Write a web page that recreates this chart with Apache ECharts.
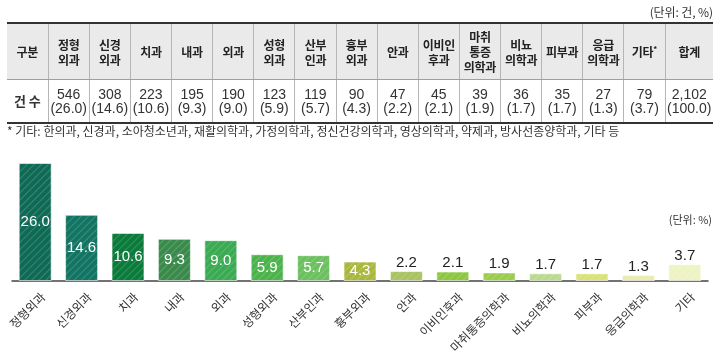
<!DOCTYPE html>
<html><head><meta charset="utf-8">
<script src="https://cdn.jsdelivr.net/npm/echarts@6/dist/echarts.min.js"></script>
<style>
html,body{margin:0;padding:0;background:#fff;width:720px;height:356px;overflow:hidden;font-family:"Noto Sans CJK KR","Noto Sans",sans-serif;color:#222;}
#chart{position:absolute;left:0;top:0;width:720px;height:356px;}
#unit1{position:absolute;right:7px;top:3px;font-size:12px;color:#333;letter-spacing:-0.1px;}
#tbl{position:absolute;left:7px;top:22px;border-collapse:collapse;table-layout:fixed;width:706px;border-top:2px solid #333;border-bottom:2px solid #333;}
#tbl td{padding:0;text-align:center;vertical-align:middle;border-left:1px solid #b5b5b5;overflow:hidden;white-space:nowrap;}
#tbl td:first-child{border-left:none;}
#tbl tr.h td{background:#eaeaea;height:55px;font-weight:bold;font-size:12px;line-height:15px;color:#222;border-bottom:1px solid #a0a0a0;letter-spacing:-0.3px;}
#tbl tr.d td{height:42px;font-size:14px;line-height:14px;color:#333;font-family:"Liberation Sans","Noto Sans CJK KR",sans-serif;}
#tbl tr.d td:first-child{font-weight:bold;font-size:13px;font-family:"Noto Sans CJK KR",sans-serif;}
#tbl sup{font-size:8px;vertical-align:5px;line-height:0;}
#note{position:absolute;left:7px;top:122px;font-size:12px;color:#333;letter-spacing:0px;white-space:nowrap;}
</style></head><body>
<div id="chart"></div>
<div id="unit1">(단위: 건, %)</div>
<table id="tbl"></table>
<div id="note"></div>
<script>
const categories = ['정형외과','신경외과','치과','내과','외과','성형외과','산부인과','흉부외과','안과','이비인후과','마취통증의학과','비뇨의학과','피부과','응급의학과','기타'];
const headerLabels = ['정형\n외과','신경\n외과','치과','내과','외과','성형\n외과','산부\n인과','흉부\n외과','안과','이비인\n후과','마취\n통증\n의학과','비뇨\n의학과','피부과','응급\n의학과','기타*'];
const counts = [546,308,223,195,190,123,119,90,47,45,39,36,35,27,79];
const percents = [26.0,14.6,10.6,9.3,9.0,5.9,5.7,4.3,2.2,2.1,1.9,1.7,1.7,1.3,3.7];
const totalCount = 2102;
const totalPercent = 100.0;
const rowTitles = ['구분','건 수'];
const totalTitle = '합계';
const unitTable = '(단위: 건, %)';
const unitChart = '(단위: %)';
const footnote = '* 기타: 한의과, 신경과, 소아청소년과, 재활의학과, 가정의학과, 정신건강의학과, 영상의학과, 약제과, 방사선종양학과, 기타 등';
const colors = ['#0f6a55','#127462','#0b7b3c','#3a8a4b','#3aab52','#4cb24c','#6cc05f','#a9b83d','#a9c262','#8dc63f','#9acd4b','#b9d98c','#d9e274','#e9ecac','#eef3c3'];

document.getElementById('unit1').textContent = unitTable;
document.getElementById('note').textContent = footnote;

// table
const tbl = document.getElementById('tbl');
const colg = document.createElement('colgroup');
const nCols = categories.length + 2;
for (let i = 0; i < nCols; i++) {
  const c = document.createElement('col');
  c.style.width = (i === nCols - 1 ? 48 : (706 - 48) / (nCols - 1)) + 'px';
  colg.appendChild(c);
}
tbl.appendChild(colg);
function esc(s){return s.replace(/&/g,'&amp;').replace(/</g,'&lt;');}
const trh = document.createElement('tr'); trh.className = 'h';
[rowTitles[0], ...headerLabels, totalTitle].forEach(t => {
  const td = document.createElement('td');
  td.innerHTML = esc(t).split('\n').join('<br>').replace('*', '<sup>*</sup>');
  trh.appendChild(td);
});
tbl.appendChild(trh);
const trd = document.createElement('tr'); trd.className = 'd';
const tdTitle = document.createElement('td'); tdTitle.textContent = rowTitles[1]; trd.appendChild(tdTitle);
counts.forEach((c, i) => {
  const td = document.createElement('td');
  td.innerHTML = c.toLocaleString('en-US') + '<br>(' + percents[i].toFixed(1) + ')';
  trd.appendChild(td);
});
const tdTot = document.createElement('td');
tdTot.innerHTML = totalCount.toLocaleString('en-US') + '<br>(' + totalPercent.toFixed(1) + ')';
trd.appendChild(tdTot);
tbl.appendChild(trd);

// chart
const chart = echarts.init(document.getElementById('chart'), null, {renderer: 'canvas'});
const labelInside = {show: true, position: 'inside', color: '#fff', fontSize: 15, fontFamily: 'Liberation Sans', formatter: p => p.value.toFixed(1)};
const labelTop = {show: true, position: 'top', distance: 1, color: '#222', fontSize: 15, fontFamily: 'Liberation Sans', formatter: p => p.value.toFixed(1)};
chart.setOption({
  animation: false,
  grid: {left: 12, right: 12, top: 163, bottom: 75, containLabel: false},
  xAxis: {
    type: 'category', data: categories,
    axisLine: {lineStyle: {color: '#444', width: 1.5}},
    axisTick: {show: false},
    axisLabel: {interval: 0, rotate: 45, fontSize: 12, color: '#333', margin: 6, verticalAlign: 'top', padding: [5, 0, 0, 0], fontFamily: 'Noto Sans CJK KR'}
  },
  yAxis: {type: 'value', min: 0, max: 26, show: false, splitLine: {show: false}},
  graphic: [{type: 'text', right: 8, top: 214, style: {text: unitChart, fontSize: 11, fill: '#333', fontFamily: 'Noto Sans CJK KR'}}],
  series: [{
    type: 'bar', barWidth: 33,
    data: percents.map((v, i) => ({value: v, itemStyle: {color: colors[i]}, label: v >= 4 ? labelInside : labelTop})),
    itemStyle: {
      borderColor: 'rgba(255,255,255,0.35)', borderWidth: 1,
      decal: {symbol: 'rect', symbolSize: 1, color: 'rgba(255,255,255,0.18)', dashArrayX: [1, 0], dashArrayY: [1, 4], rotation: -Math.PI / 4}
    }
  }]
});
</script>
</body></html>
